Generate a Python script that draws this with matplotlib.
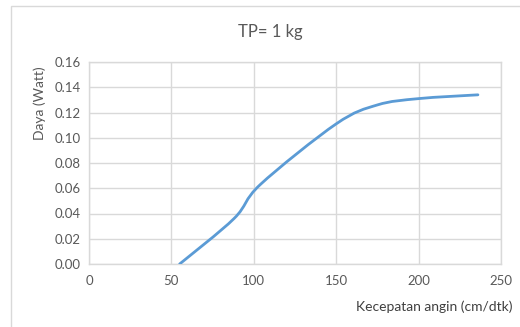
import matplotlib.pyplot as plt
from matplotlib.path import Path
from matplotlib.patches import PathPatch, Rectangle
import numpy as np

plt.rcParams['font.family'] = ['Lato', 'DejaVu Sans']

# kecepatan angin (cm/dtk) vs daya (Watt)
kecepatan = [55, 88, 104, 150, 175, 200, 236]
daya = [0.0, 0.036, 0.063, 0.111, 0.126, 0.131, 0.134]

line_color = '#5B9BD5'
grid_color = '#D9D9D9'
text_color = '#595959'

fig = plt.figure(figsize=(5.2, 3.27), dpi=100)
ax = fig.add_axes([89/520, 1 - 264/327, 412/520, 202/327])

# smoothed line like excel (bezier through the points)
px = np.array(kecepatan, float)
py = np.array(daya, float)
n = len(px)
verts = [(px[0], py[0])]
codes = [Path.MOVETO]
for i in range(n - 1):
    i0 = max(i - 1, 0)
    i3 = min(i + 2, n - 1)
    c1 = (px[i] + (px[i+1] - px[i0]) / 6, py[i] + (py[i+1] - py[i0]) / 6)
    c2 = (px[i+1] - (px[i3] - px[i]) / 6, py[i+1] - (py[i3] - py[i]) / 6)
    verts += [c1, c2, (px[i+1], py[i+1])]
    codes += [Path.CURVE4] * 3
ax.add_patch(PathPatch(Path(verts, codes), fill=False, edgecolor=line_color,
                       lw=2, capstyle='round', zorder=3))

ax.set_xlim(0, 250)
ax.set_ylim(0, 0.16)
ax.set_xticks(np.arange(0, 251, 50))
ax.set_yticks(np.arange(0, 0.161, 0.02))
ax.set_yticklabels(['%.2f' % v for v in np.arange(0, 0.161, 0.02)])
ax.grid(True, color=grid_color, lw=1)
ax.set_axisbelow(True)
for s in ax.spines.values():
    s.set_color(grid_color)
    s.set_linewidth(1)
ax.tick_params(length=0, colors=text_color, labelsize=9.5, pad=6)
ax.tick_params(axis='x', pad=8)

fig.text(270/520, 1 - 32/327, 'TP= 1 kg', ha='center', va='center',
         fontsize=12, color=text_color)
fig.text(513/520, 1 - 307/327, 'Kecepatan angin (cm/dtk)', ha='right', va='center',
         fontsize=10, color='#404040')
fig.text(40/520, 1 - 103/327, 'Daya (Watt)', ha='center', va='center',
         rotation=90, fontsize=10, color=text_color)

fig.patches.append(Rectangle((11/520, -0.1), 1.2, 1 - 6/327 + 0.1,
                             transform=fig.transFigure, fill=False,
                             edgecolor=grid_color, lw=1))

fig.savefig('out.png', dpi=100)
